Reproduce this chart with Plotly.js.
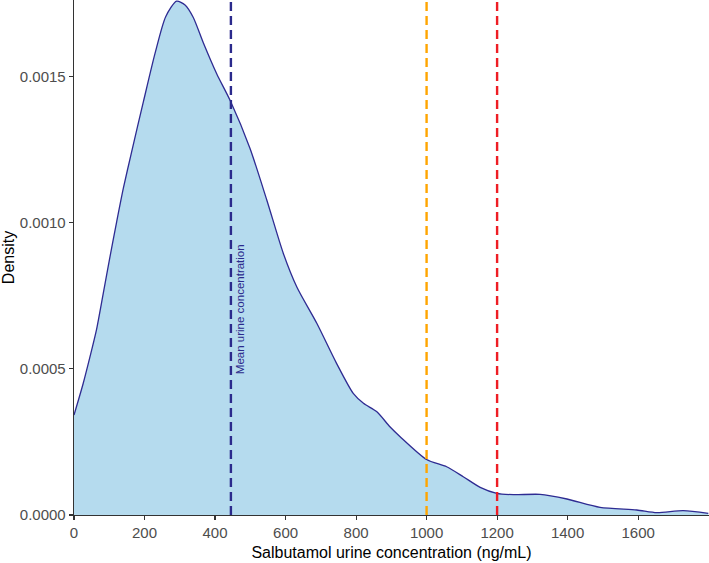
<!DOCTYPE html>
<html>
<head>
<meta charset="utf-8">
<script src="https://cdn.plot.ly/plotly-3.0.1.min.js"></script>
<style>html,body{margin:0;padding:0;background:#fff;}#chart{width:709px;height:563px;}</style>
</head>
<body>
<div id="chart"></div>
<script>
// Density curve
const concentration = [0, 26, 50, 64, 83, 102, 121, 140, 162, 197, 230, 260, 291, 315, 338, 367, 405, 443, 499, 547, 594, 632, 689, 745, 792, 821, 859, 896, 925, 1000, 1057, 1104, 1152, 1199, 1246, 1322, 1398, 1492, 1596, 1653, 1728, 1799];
const density = [0.000342, 0.00045, 0.000564, 0.000635, 0.000758, 0.000883, 0.001003, 0.001118, 0.001235, 0.001415, 0.00158, 0.001705, 0.001758, 0.001745, 0.001703, 0.001615, 0.001509, 0.001418, 0.001255, 0.001077, 0.000894, 0.00078, 0.000655, 0.000518, 0.000416, 0.000382, 0.000353, 0.000302, 0.000268, 0.00019, 0.000165, 0.000131, 0.0000946, 0.0000741, 0.0000695, 0.0000706, 0.0000547, 0.0000262, 0.0000171, 0.000008, 0.0000148, 0.0000057];

// Reference lines
const refLineX = [445, 1000, 1200];
const refLineColors = ['#2b2a8c', '#ffa500', '#ee1d24'];
const meanLabel = 'Mean urine concentration';

const xTicks = [0, 200, 400, 600, 800, 1000, 1200, 1400, 1600];
const yTicks = [0, 0.0005, 0.0010, 0.0015];
const yTickText = ['0.0000', '0.0005', '0.0010', '0.0015'];

const yMax = 0.001762;

const traces = [{
  x: concentration,
  y: density,
  type: 'scatter',
  mode: 'lines',
  fill: 'tozeroy',
  fillcolor: '#b5dbee',
  line: {color: '#2e2b92', width: 1.3, shape: 'spline', smoothing: 0.7},
  hoverinfo: 'skip',
  showlegend: false
}];

const shapes = refLineX.map((xv, i) => ({
  type: 'line', xref: 'x', yref: 'paper',
  x0: xv, x1: xv, y0: 0, y1: 1,
  line: {color: refLineColors[i], width: 2.4, dash: '9px,5px'}
}));

const layout = {
  width: 709, height: 563,
  margin: {l: 74, r: 0, t: 0, b: 48},
  paper_bgcolor: '#ffffff',
  plot_bgcolor: '#ffffff',
  font: {family: '"Liberation Sans", Arial, sans-serif', color: '#000'},
  showlegend: false,
  xaxis: {
    range: [0, 1801],
    tickvals: xTicks,
    ticktext: xTicks.map(String),
    ticks: 'outside', ticklen: 4, tickwidth: 1.1, tickcolor: '#333333',
    showline: true, linecolor: '#333333', linewidth: 1.3,
    showgrid: false, zeroline: false,
    tickfont: {size: 15, color: '#4d4d4d'},
    title: {text: 'Salbutamol urine concentration (ng/mL)', font: {size: 16, color: '#000'}, standoff: 6}
  },
  yaxis: {
    range: [0, yMax],
    tickvals: yTicks,
    ticktext: yTickText,
    ticks: 'outside', ticklen: 4, tickwidth: 1.1, tickcolor: '#333333',
    showline: true, linecolor: '#333333', linewidth: 1.3,
    showgrid: false, zeroline: false,
    tickfont: {size: 15, color: '#4d4d4d'},
    title: {text: 'Density', font: {size: 16, color: '#000'}, standoff: 4}
  },
  shapes: shapes,
  annotations: [{
    x: refLineX[0], y: 0.000704, xref: 'x', yref: 'y',
    text: meanLabel, textangle: -90, showarrow: false,
    xanchor: 'left', yanchor: 'middle', xshift: 1,
    font: {size: 11.5, color: '#2b2a8c'}
  }]
};

Plotly.newPlot('chart', traces, layout, {displayModeBar: false, staticPlot: true});
</script>
</body>
</html>
